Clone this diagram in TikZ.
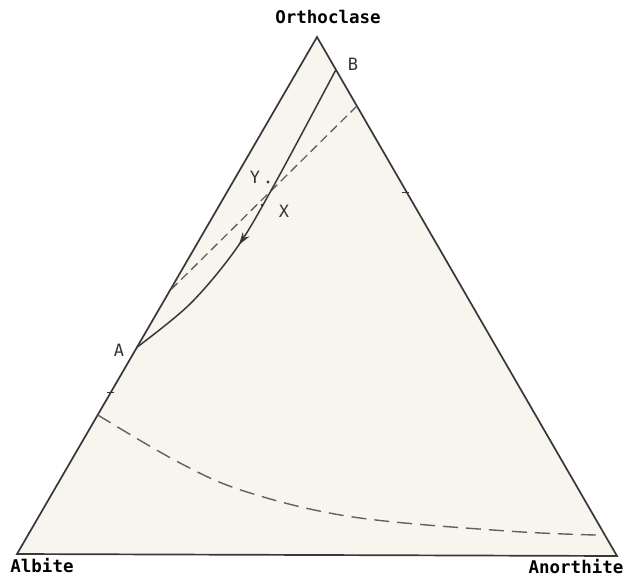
\documentclass[tikz,border=0pt]{standalone}
\usepackage{fontspec}
\setmonofont{DejaVu Sans Mono}
\usepackage{tikz}
\usetikzlibrary{positioning,arrows.meta,calc,decorations.markings}
\definecolor{paper}{HTML}{F8F5EF}
\colorlet{inkline}{black!78}
\colorlet{inkdash}{black!62}
\tikzset{
  side/.style={draw=inkline, line width=1.7pt, line join=miter},
  trace/.style={draw=inkline, line width=1.5pt},
  tie/.style={draw=inkdash, line width=1.3pt, dash pattern=on 9pt off 5pt},
  limit/.style={draw=inkdash, line width=1.4pt, dash pattern=on 15pt off 8pt},
  corner/.style={font=\ttfamily\bfseries\fontsize{17.5}{17.5}\selectfont, inner sep=0pt},
  ptlabel/.style={font=\ttfamily\fontsize{17}{17}\selectfont, text=black!80, inner sep=0pt},
  sidetick/.style={draw=inkline, line width=1pt},
  midarrow/.style={postaction={decorate, decoration={markings,
    mark=at position #1 with {\arrow{Stealth[length=13pt,width=8pt]}}}}},
}

\begin{document}
\begin{tikzpicture}[x=1pt,y=-1pt]
\useasboundingbox (0,0) rectangle (628,578);
% the three end members
\coordinate (or) at (317,37);
\coordinate (ab) at (17,554);
\coordinate (an) at (617,556);
\fill[paper] (or) -- (ab) -- (an) -- cycle;
\draw[side] (or) -- (ab) -- (an) -- cycle;
\node[corner] (orl) at (328,17) {Orthoclase};
\node[corner] (abl) at (42,566) {Albite};
\node[corner] (anl) at (576,567) {Anorthite};
% points on the sides
\coordinate (a) at ($(or)!0.600!(ab)$);
\coordinate (b) at ($(or)!0.063!(an)$);
\coordinate (tr) at ($(or)!0.133!(an)$);
\coordinate (tl) at ($(or)!0.491!(ab)$);
\coordinate (ll) at ($(or)!0.731!(ab)$);
\coordinate (lr) at ($(or)!0.960!(an)$);
\coordinate (kr) at ($(or)!0.300!(an)$);
\coordinate (kl) at ($(or)!0.687!(ab)$);
\node[ptlabel] (al) at (119,350) {A};
\node[ptlabel] (bl) at (353,64) {B};
% tie line and the lower boundary
\draw[tie] (tr) -- (tl);
\draw[limit] plot[smooth, tension=0.6] coordinates {(ll) (180,463) (247,492) (353,517) (507,531) (lr)};
% path from B to A
\draw[trace, midarrow=0.58] plot[smooth, tension=0.55] coordinates {(b) (273,187) (236,249) (190,304) (a)};
\coordinate (y) at (268,182);
\coordinate (x) at (262,205);
\fill[inkline] (y) circle (1.7);
\fill[inkline] (x) circle (1.3);
\node[ptlabel] (yl) at (255,177) {Y};
\node[ptlabel] (xl) at (284,211) {X};
% small ticks on the sides
\draw[sidetick] ($(kr)+(-5,0)$) -- ($(kr)+(2,0)$);
\draw[sidetick] ($(kl)+(-4,0)$) -- ($(kl)+(3,0)$);
\end{tikzpicture}
\end{document}
